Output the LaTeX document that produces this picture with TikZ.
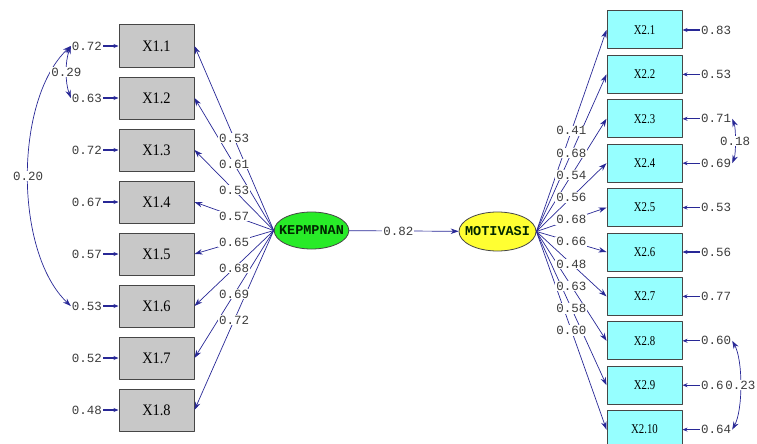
\documentclass[tikz,border=0pt]{standalone}
\usepackage{fontspec}
\usetikzlibrary{arrows.meta,shapes.geometric}
\newfontfamily\numfont{Liberation Mono}
\newfontfamily\obsfont[FakeStretch=0.9]{Liberation Serif}
\newfontfamily\obsfontsm[FakeStretch=0.8]{Liberation Serif}
\definecolor{pathblue}{RGB}{40,40,150}
\definecolor{boxgray}{RGB}{200,200,200}
\definecolor{boxcyan}{RGB}{150,255,255}
\definecolor{latgreen}{RGB}{40,235,40}
\definecolor{latyellow}{RGB}{255,255,50}
\definecolor{edgegray}{RGB}{70,70,70}
\definecolor{numgray}{RGB}{60,60,60}
% loadings and error variances
\def\kload{1/0.53,2/0.61,3/0.53,4/0.57,5/0.65,6/0.68,7/0.69,8/0.72}
\def\kerr{1/0.72,2/0.63,3/0.72,4/0.67,5/0.57,6/0.53,7/0.52,8/0.48}
\def\mload{1/0.41,2/0.68,3/0.54,4/0.56,5/0.68,6/0.66,7/0.48,8/0.63,9/0.58,10/0.60}
\def\merr{1/0.83,2/0.53,3/0.71,4/0.69,5/0.53,6/0.56,7/0.77,8/0.60,9/0.60,10/0.64}
\begin{document}
\begin{tikzpicture}[x=1pt,y=-1pt,>={Stealth[length=8pt,width=5.5pt]},line join=round,
    obs/.style={draw=edgegray,line width=1pt,rectangle,minimum width=75pt,inner sep=0pt},
    lat/.style={ellipse,draw=edgegray,line width=0.8pt,minimum width=73pt,minimum height=37pt,
      inner xsep=-6pt,inner ysep=0pt,text=black!85!green,font=\numfont\bfseries\fontsize{13.5}{14}\selectfont},
    num/.style={font=\numfont\fontsize{12.5}{13}\selectfont,text=numgray,inner sep=1pt},
    lbl/.style={num,fill=white},
    load/.style={draw=pathblue,line width=0.7pt},
    err/.style={draw=pathblue,line width=1.2pt,-{Stealth[length=5pt,width=4pt]}}]
  \useasboundingbox (0,0) rectangle (757,444);

  % observed variables
  \foreach \i in {1,...,8}
    \node[obs,fill=boxgray,minimum height=42pt,font=\obsfont\fontsize{16}{16}\selectfont]
      (k\i) at (156.5,{46+52*(\i-1)}) {X1.\i};
  \foreach \i in {1,...,10}
    \node[obs,fill=boxcyan,minimum height=38pt,font=\obsfontsm\fontsize{13.5}{14}\selectfont]
      (m\i) at (644.5,{30+44.4*(\i-1)}) {X2.\i};

  % latent variables
  \node[lat,fill=latgreen] (kep) at (311.5,230.5) {KEPMPNAN};
  \node[lat,fill=latyellow,minimum width=77pt,minimum height=39pt] (mot) at (497.5,231.5) {MOTIVASI};
  \draw[->,load] (kep) -- (mot) node[lbl,pos=.45] (g) {0.82};

  % loadings
  \foreach \i/\l in \kload
    \draw[->,load] (kep.west) -- (k\i.east);
  \foreach \i/\l in \mload
    \draw[->,load] (mot.east) -- (m\i.west);
  \foreach \i/\l in \kload
    \path (kep.west) -- (k\i.east) node[lbl,midway] (lk\i) {\l};
  \foreach \i/\l in \mload
    \path (mot.east) -- (m\i.west) node[lbl,midway] (lm\i) {\l};

  % error variances
  \foreach \i/\e in \kerr {
    \node[num] (ek\i) at (87,{46+52*(\i-1)}) {\e};
    \draw[err] (ek\i) -- (k\i);
  }
  \foreach \i/\e in \merr {
    \node[num] (em\i) at (716,{30+44.4*(\i-1)}) {\e};
    \draw[err] (em\i) -- (m\i);
  }

  % error covariances
  \draw[<->,load] (ek1.west) .. controls (14,100) and (14,252) .. (ek6.west) node[lbl,pos=.5] (c1) {0.20};
  \draw[<->,load] (ek1.west) .. controls (65,62) and (65,82) .. (ek2.west) node[lbl,pos=.5] (c2) {0.29};
  \draw[<->,load] (em3.east) .. controls (736,128) and (736,154) .. (em4.east) node[lbl,pos=.5] (c3) {0.18};
  \draw[<->,load] (em8.east) .. controls (743,360) and (743,410) .. (em10.east) node[lbl,pos=.5] (c4) {0.23};
\end{tikzpicture}
\end{document}
